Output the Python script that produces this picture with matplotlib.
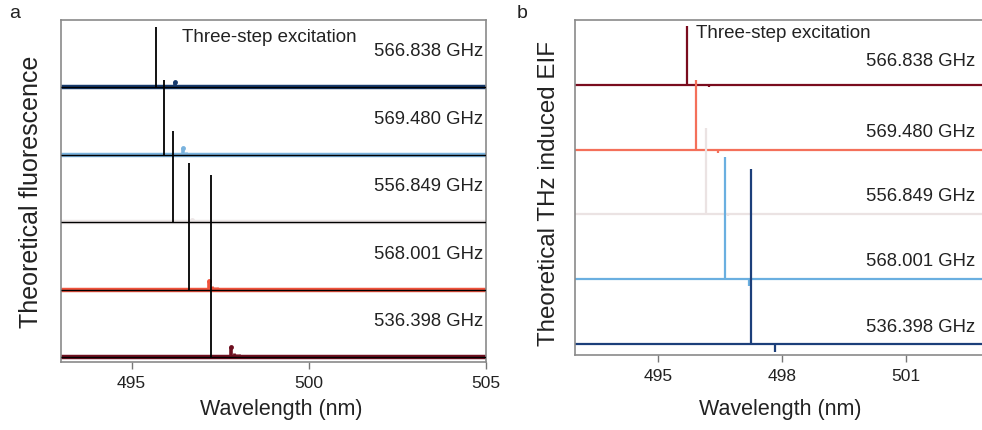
import matplotlib.pyplot as plt

plt.rcParams['font.family'] = ['Liberation Sans', 'DejaVu Sans']

# THz frequencies, listed top trace first
freqs = ['566.838 GHz', '569.480 GHz', '556.849 GHz', '568.001 GHz', '536.398 GHz']

# main fluorescence line of each trace (nm) and its height (units of trace spacing)
peak_wl = [495.70, 495.93, 496.17, 496.62, 497.25]
fluo_h = [0.89, 1.10, 1.35, 1.87, 2.70]
eif_h = [0.90, 1.08, 1.34, 1.88, 2.70]

# THz-shifted satellite line of each trace
sat_wl = [496.23, 496.46, 496.70, 497.19, 497.82]
sat_fluo_h = [0.07, 0.09, 0.03, 0.13, 0.15]
sat_eif_h = [-0.04, -0.05, -0.02, -0.10, -0.13]

# weak ripple following the satellite (offset from satellite in nm, relative size)
ripple_dx = [0.07, 0.14, 0.21, 0.28, 0.42, 0.56, 0.70, 0.98, 1.26, 1.54, 1.96, 2.38]
ripple_rel = [0.40, 0.32, 0.26, 0.22, 0.18, 0.15, 0.13, 0.11, 0.10, 0.09, 0.08, 0.07]

colors_a = ['#173a6c', '#7ab3de', '#ece6e6', '#f0533c', '#6e1020']
colors_b = ['#7a0c1e', '#f4705a', '#ebe3e3', '#6aafe0', '#1c3f7a']

W, H = 982, 430
fig = plt.figure(figsize=(W / 100, H / 100), dpi=100)

def box(x0, y0, x1, y1):
    return [x0 / W, 1 - y1 / H, (x1 - x0) / W, (y1 - y0) / H]

ax_a = fig.add_axes(box(60.7, 20, 485.7, 362))
ax_b = fig.add_axes(box(575, 20, 985, 355))

n = len(freqs)

# panel a: colored THz-induced part under the black fluorescence spectrum
for i in range(n):
    base = n - 1 - i
    c = colors_a[i]
    ax_a.hlines(base, 493, 505, color=c, lw=3.2, zorder=2)
    ax_a.vlines(sat_wl[i], base, base + sat_fluo_h[i], color=c, lw=2.6, zorder=2)
    ax_a.plot(sat_wl[i], base + sat_fluo_h[i], 'o', ms=3.5, color=c, mec='none', zorder=2)
    rw = [sat_wl[i] + d for d in ripple_dx]
    rh = [base + sat_fluo_h[i] * r for r in ripple_rel]
    ax_a.vlines(rw, base, rh, color=c, lw=2.0, zorder=2)
    ax_a.hlines(base, 493, 505, color='black', lw=1.0, zorder=3)
    ax_a.vlines(peak_wl[i], base, base + fluo_h[i], color='black', lw=1.3, zorder=4)
    ax_a.text(504.93, base + 0.52, freqs[i], ha='right', va='center', fontsize=13.3, color='#222222')

ax_a.text(496.42, 4.73, 'Three-step excitation', ha='left', va='center', fontsize=13.5, color='#222222')
ax_a.set_xlim(493, 505)
ax_a.set_ylim(-0.074, 4.993)
ax_a.set_xticks([495, 500, 505])

# panel b: THz induced EIF traces
label_dy = [0.36, 0.27, 0.27, 0.27, 0.25]
for i in range(n):
    base = n - 1 - i
    c = colors_b[i]
    ax_b.hlines(base, 493, 503, color=c, lw=1.6, zorder=2)
    ax_b.vlines(peak_wl[i], base, base + eif_h[i], color=c, lw=1.6, zorder=3)
    ax_b.vlines(sat_wl[i], base, base + sat_eif_h[i], color=c, lw=1.6, zorder=3)
    rw = [sat_wl[i] + d for d in ripple_dx]
    rh = [base - 0.02 * r for r in ripple_rel]
    ax_b.vlines(rw, base, rh, color=c, lw=1.2, zorder=2)
    ax_b.text(502.67, base + label_dy[i], freqs[i], ha='right', va='center', fontsize=13.3, color='#222222')

ax_b.text(495.93, 4.79, 'Three-step excitation', ha='left', va='center', fontsize=13.5, color='#222222')
ax_b.set_xlim(493, 502.9)
ax_b.set_ylim(-0.17, 5.0)
ax_b.set_xticks([495, 498, 501])
ax_b.spines['right'].set_visible(False)

for ax in (ax_a, ax_b):
    ax.set_yticks([])
    for s in ax.spines.values():
        s.set_color('#8a8a8a')
        s.set_linewidth(1.2)
    ax.tick_params(axis='x', direction='out', length=5, width=1.0, color='#777777',
                   labelsize=12.5, labelcolor='#222222', pad=5)

fig.text(281 / W, 1 - 409 / H, 'Wavelength (nm)', ha='center', va='center',
         fontsize=15.5, color='#222222')
fig.text(780 / W, 1 - 409 / H, 'Wavelength (nm)', ha='center', va='center',
         fontsize=15.5, color='#222222')
fig.text(31 / W, 1 - 192 / H, 'Theoretical fluorescence', rotation=90, ha='center', va='center',
         fontsize=18, color='#222222')
fig.text(549 / W, 1 - 193 / H, 'Theoretical THz induced EIF', rotation=90, ha='center', va='center',
         fontsize=17.4, color='#222222')
fig.text(15 / W, 1 - 13 / H, 'a', ha='center', va='center', fontsize=14, color='#222222')
fig.text(522 / W, 1 - 13 / H, 'b', ha='center', va='center', fontsize=14, color='#222222')

fig.savefig('out.png', dpi=100)
